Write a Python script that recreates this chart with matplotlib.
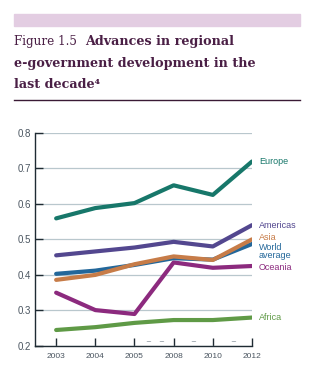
import matplotlib.pyplot as plt

years = ['2003', '2004', '2005', '2008', '2010', '2012']

europe = [0.559, 0.588, 0.602, 0.652, 0.625, 0.719]
americas = [0.455, 0.466, 0.477, 0.493, 0.480, 0.540]
asia = [0.386, 0.400, 0.430, 0.452, 0.442, 0.500]
world = [0.403, 0.412, 0.428, 0.447, 0.443, 0.487]
oceania = [0.350, 0.301, 0.290, 0.435, 0.420, 0.425]
africa = [0.245, 0.253, 0.265, 0.273, 0.273, 0.280]

series = [
    ('Africa', africa, '#5f9a46'),
    ('Oceania', oceania, '#8c2a7e'),
    ('World\naverage', world, '#23679a'),
    ('Asia', asia, '#c77c48'),
    ('Americas', americas, '#53478f'),
    ('Europe', europe, '#17776a'),
]
label_y = {'Europe': 0.719, 'Americas': 0.540, 'Asia': 0.506,
           'World\naverage': 0.467, 'Oceania': 0.42, 'Africa': 0.28}

fig = plt.figure(figsize=(3.23, 3.86), dpi=100)
fig.patch.set_facecolor('white')

# header band, title and rule
fig.patches.append(plt.Rectangle((14/323, 1-26/386), 286/323, 12/386,
                                 transform=fig.transFigure, color='#e3cde2'))
fig.add_artist(plt.Line2D([14/323, 300/323], [1-100/386, 1-100/386],
                          transform=fig.transFigure, color='#3a1a35', lw=1))
tcol = '#4a1f45'
fig.text(14/323, 1-42/386, 'Figure 1.5', fontsize=8.6, family='DejaVu Serif',
         color=tcol, va='center')
fig.text(85/323, 1-42/386, 'Advances in regional', fontsize=9.2,
         family='DejaVu Serif', weight='bold', color=tcol, va='center')
fig.text(14/323, 1-63/386, 'e-government development in the', fontsize=9.2,
         family='DejaVu Serif', weight='bold', color=tcol, va='center')
fig.text(14/323, 1-85/386, 'last decade\u2074', fontsize=9.2,
         family='DejaVu Serif', weight='bold', color=tcol, va='center')

ax = fig.add_axes([35/323, 1-346/386, 217/323, (346-132.7)/386])
x = list(range(len(years)))
for name, vals, col in series:
    ax.plot(x, vals, color=col, lw=3, solid_capstyle='round', zorder=3)
    ax.text(5.18, label_y[name], name, color=col, fontsize=6.5,
            family='Liberation Sans', va='center', ha='left', linespacing=0.85)

ax.set_xlim(-0.54, 5)
ax.set_ylim(0.2, 0.8)
ax.set_xticks(x)
ax.set_xticklabels(years)
ax.set_yticks([0.2, 0.3, 0.4, 0.5, 0.6, 0.7, 0.8])
ax.set_yticklabels(['0.2', '0.3', '0.4', '0.5', '0.6', '0.7', '0.8'])
ax.yaxis.grid(True, color='#b9c7cd', lw=0.9)
ax.set_axisbelow(True)
for s in ['top', 'right']:
    ax.spines[s].set_visible(False)
for s in ['left', 'bottom']:
    ax.spines[s].set_color('#1f2b33')
    ax.spines[s].set_linewidth(1)
ax.tick_params(axis='both', direction='in', length=6, width=1, color='#1f2b33')
ax.tick_params(axis='x', labelsize=6, labelcolor='#4a5560', pad=5)
ax.tick_params(axis='y', labelsize=7, labelcolor='#4a5560', pad=3)
for lab in ax.get_xticklabels() + ax.get_yticklabels():
    lab.set_family('Liberation Sans')

# small break marks on the time axis
for bx in [2.35, 2.68, 3.5, 4.52]:
    ax.text(bx, 0.203, '~', fontsize=5, color='#6a7884', ha='center', va='bottom')

fig.savefig('out.png', dpi=100)
